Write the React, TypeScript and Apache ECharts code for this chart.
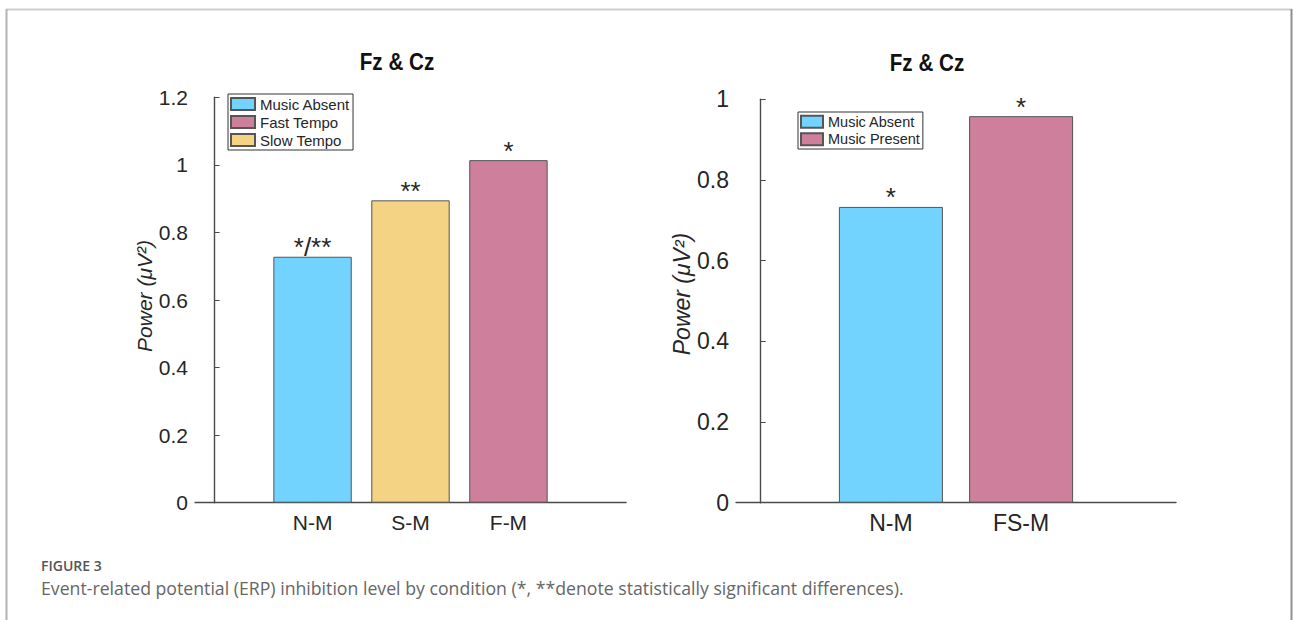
import React, { useEffect, useRef } from 'react';
import * as echarts from 'echarts';

// ---------- data ----------
const leftCategories = ['N-M', 'S-M', 'F-M'];
const leftSeriesNames = ['Music Absent', 'Slow Tempo', 'Fast Tempo'];
const leftValues = [0.728, 0.895, 1.014];
const leftMarks = ['*/**', '**', '*'];
const leftLegendOrder = ['Music Absent', 'Fast Tempo', 'Slow Tempo'];

const rightCategories = ['N-M', 'FS-M'];
const rightSeriesNames = ['Music Absent', 'Music Present'];
const rightValues = [0.733, 0.958];
const rightMarks = ['*', '*'];
const rightLegendOrder = ['Music Absent', 'Music Present'];

const panelTitle = 'Fz & Cz';
const yAxisTitle = 'Power (μV²)';
const figureLabel = 'FIGURE 3';
const captionText =
  'Event-related potential (ERP) inhibition level by condition (*, **denote statistically significant differences).';

const colorByName: Record<string, string> = {
  'Music Absent': '#72D3FE',
  'Slow Tempo': '#F4D384',
  'Fast Tempo': '#CD7F9C',
  'Music Present': '#CD7F9C',
};

const FONT = "'Liberation Sans', Arial, Helvetica, sans-serif";
const CAP_FONT = "'Open Sans', 'Noto Sans', sans-serif";
const INK = '#262626';
const AXIS = '#4a4a4a';

function makeBars(names: string[], values: number[], marks: string[], axisIndex: number, width: number) {
  return names.map((name, i) => ({
    type: 'bar',
    name,
    xAxisIndex: axisIndex,
    yAxisIndex: axisIndex,
    data: [[i + 1, values[i]]],
    barWidth: width,
    barGap: '-100%',
    itemStyle: { color: colorByName[name], borderColor: '#555', borderWidth: 1 },
    label: {
      show: true,
      position: 'top',
      distance: 0,
      offset: [0, 3.5],
      formatter: marks[i],
      fontSize: 26,
      color: INK,
      fontFamily: FONT,
    },
  }));
}

function xAxis(gridIndex: number, cats: string[], min: number, max: number, fontSize: number) {
  const vals = cats.map((_, i) => i + 1);
  return {
    type: 'value',
    gridIndex,
    min,
    max,
    splitLine: { show: false },
    axisLine: { show: true, onZero: true, lineStyle: { color: AXIS, width: 1.4 } },
    axisTick: { show: true, inside: true, length: 4, customValues: vals, lineStyle: { color: '#333', width: 1 } },
    axisLabel: {
      customValues: vals,
      formatter: (v: number) => cats[Math.round(v) - 1] ?? '',
      fontSize,
      color: INK,
      fontFamily: FONT,
      margin: 9,
    },
  };
}

function yAxis(gridIndex: number, max: number, fontSize: number) {
  return {
    type: 'value',
    gridIndex,
    min: 0,
    max,
    interval: 0.2,
    splitLine: { show: false },
    axisLine: { show: true, lineStyle: { color: AXIS, width: 1.4 } },
    axisTick: { show: true, inside: true, length: 5, lineStyle: { color: AXIS, width: 1 } },
    axisLabel: { fontSize, color: INK, fontFamily: FONT, margin: 7 },
  };
}

export default function App() {
  const ref = useRef<HTMLDivElement>(null);

  useEffect(() => {
    if (!ref.current) return;
    const chart = echarts.init(ref.current, undefined, { renderer: 'svg' });

    const option = {
      animation: false,
      backgroundColor: '#ffffff',
      grid: [
        { left: 195, top: 97.3, width: 431, height: 405.4 },
        { left: 736, top: 99.2, width: 440, height: 403.5 },
      ],
      xAxis: [xAxis(0, leftCategories, -0.2, 4.2, 21), xAxis(1, rightCategories, -0.19, 3.19, 23)],
      yAxis: [yAxis(0, 1.2, 21), yAxis(1, 1, 23)],
      legend: [
        {
          data: leftLegendOrder,
          orient: 'vertical',
          left: 228,
          top: 94,
          icon: 'rect',
          itemWidth: 24,
          itemHeight: 12,
          itemGap: 2,
          padding: [2, 3, 2, 2],
          borderColor: '#333',
          borderWidth: 1,
          selectedMode: false,
          textStyle: { fontSize: 15, color: INK, fontFamily: FONT, lineHeight: 16 },
        },
        {
          data: rightLegendOrder,
          orient: 'vertical',
          left: 798,
          top: 112,
          icon: 'rect',
          itemWidth: 22,
          itemHeight: 12,
          itemGap: 2,
          padding: [2, 3, 2, 2],
          borderColor: '#333',
          borderWidth: 1,
          selectedMode: false,
          textStyle: { fontSize: 14.5, color: INK, fontFamily: FONT, lineHeight: 15.5 },
        },
      ],
      series: [
        ...makeBars(leftSeriesNames, leftValues, leftMarks, 0, 78.4),
        ...makeBars(rightSeriesNames, rightValues, rightMarks, 1, 104),
      ],
      graphic: [
        // figure frame
        { type: 'line', shape: { x1: 6, y1: 9.5, x2: 1292, y2: 9.5 }, style: { stroke: '#cfcfcf', lineWidth: 2 } },
        { type: 'line', shape: { x1: 6.5, y1: 9, x2: 6.5, y2: 620 }, style: { stroke: '#b3b3b3', lineWidth: 2 } },
        { type: 'line', shape: { x1: 1291.5, y1: 9, x2: 1291.5, y2: 620 }, style: { stroke: '#8f8f8f', lineWidth: 2 } },
        // panel titles
        {
          type: 'text', x: 397, y: 62, scaleX: 0.86,
          style: { text: panelTitle, fontSize: 24, fontWeight: 'bold', fontFamily: FONT, fill: '#111', align: 'center', verticalAlign: 'middle' },
        },
        {
          type: 'text', x: 927, y: 62.5, scaleX: 0.86,
          style: { text: panelTitle, fontSize: 24, fontWeight: 'bold', fontFamily: FONT, fill: '#111', align: 'center', verticalAlign: 'middle' },
        },
        // y axis names
        {
          type: 'text', x: 144, y: 296, rotation: Math.PI / 2,
          style: { text: yAxisTitle, fontSize: 21, fontStyle: 'italic', fontFamily: FONT, fill: INK, align: 'center', verticalAlign: 'middle' },
        },
        {
          type: 'text', x: 682, y: 294, rotation: Math.PI / 2,
          style: { text: yAxisTitle, fontSize: 23, fontStyle: 'italic', fontFamily: FONT, fill: INK, align: 'center', verticalAlign: 'middle' },
        },
        // caption
        {
          type: 'text', x: 41, y: 565,
          style: { text: figureLabel, fontSize: 14, fontWeight: 600, fontFamily: CAP_FONT, fill: '#555', align: 'left', verticalAlign: 'middle' },
        },
        {
          type: 'text', x: 41, y: 588,
          style: { text: captionText, fontSize: 17.7, fontFamily: CAP_FONT, fill: '#666', align: 'left', verticalAlign: 'middle' },
        },
      ],
    };

    chart.setOption(option as any);
    return () => chart.dispose();
  }, []);

  return (
    <div style={{ position: 'absolute', left: 0, top: 0, width: 1293, height: 620, background: '#fff' }}>
      <div ref={ref} style={{ width: 1293, height: 620 }} />
    </div>
  );
}
